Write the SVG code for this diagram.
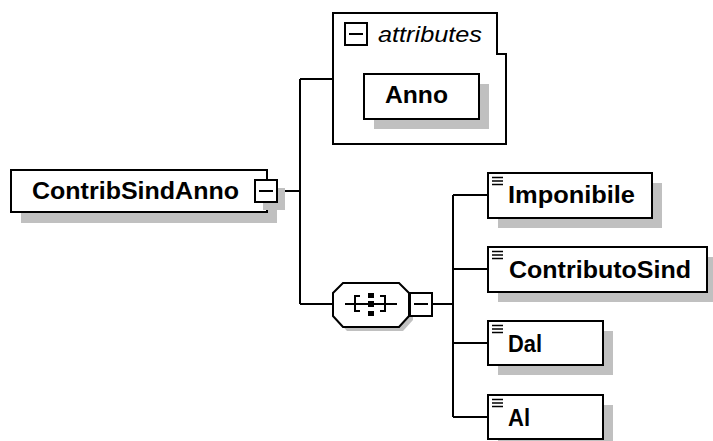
<svg xmlns="http://www.w3.org/2000/svg" width="713" height="441" viewBox="0 0 713 441">
<style>
.box{fill:#fff;stroke:#000;stroke-width:2}
.shadow{fill:#c0c0c0}
.line{fill:none;stroke:#000;stroke-width:2}
.thin{fill:none;stroke:#000;stroke-width:2}
.lbl{font-family:"Liberation Sans",Arial,sans-serif;font-weight:bold;font-size:24px;fill:#000}
.ital{font-family:"Liberation Sans",Arial,sans-serif;font-style:italic;font-size:22px;fill:#000}
</style>
<defs>
<g id="elicon"><path d="M4,4.5H15M4,8H15M4,11.5H15" stroke="#000" stroke-width="1.6" fill="none"/></g>
</defs>
<rect width="713" height="441" fill="#fff"/>
<g id="connectors">
<path class="line" d="M278,191H300M300,79V304M300,79H333M300,304H333"/>
<path class="line" d="M433,304H453M453,195V417M453,195H488M453,269H488M453,343H488M453,417H488"/>
</g>
<g id="ContribSindAnno">
<rect class="shadow" x="21" y="180" width="256" height="43"/>
<rect class="box" x="11" y="170" width="256" height="42"/>
<text class="lbl" x="32" y="199" textLength="207" lengthAdjust="spacingAndGlyphs">ContribSindAnno</text>
<rect class="shadow" x="263" y="188" width="22" height="22"/>
<rect class="box" x="255" y="180" width="22" height="22"/>
<path class="thin" d="M259,191H273"/>
</g>
<g id="attributes">
<path class="box" d="M333,13H497V54H506V144H333Z"/>
<rect class="box" x="345" y="23" width="22" height="22" stroke-width="1.6"/>
<path class="thin" d="M349,34H363"/>
<text class="ital" x="378" y="42" textLength="104" lengthAdjust="spacingAndGlyphs">attributes</text>
</g>
<g id="Anno">
<rect class="shadow" x="374" y="84" width="115" height="45"/>
<rect class="box" x="364" y="74" width="115" height="45"/>
<text class="lbl" x="385" y="103" textLength="63" lengthAdjust="spacingAndGlyphs">Anno</text>
</g>
<g id="sequence">
<path class="shadow" d="M347,287H403L413,297V320L403,331H347L337,320V297Z"/>
<path class="box" d="M343,283H399L409,293V316L399,327H343L333,316V293Z"/>
<path class="thin" stroke-width="1.6" d="M345,304H397M360,296H355V311H360M380,296H385V311H380"/>
<rect x="368" y="293" width="6" height="5" fill="#000"/>
<rect x="368" y="301" width="6" height="6" fill="#000"/>
<rect x="368" y="311" width="6" height="5" fill="#000"/>
<rect class="box" x="410" y="293" width="22" height="23"/>
<path class="thin" d="M414,304H428"/>
</g>
<g id="Imponibile">
<rect class="shadow" x="498" y="183" width="164" height="45"/>
<rect class="box" x="488" y="173" width="164" height="45"/>
<use href="#elicon" x="488" y="173"/>
<text class="lbl" x="508" y="203" textLength="127" lengthAdjust="spacingAndGlyphs">Imponibile</text>
</g>
<g id="ContributoSind">
<rect class="shadow" x="498" y="257" width="219" height="45"/>
<rect class="box" x="488" y="247" width="219" height="45"/>
<use href="#elicon" x="488" y="247"/>
<text class="lbl" x="509" y="278" textLength="182" lengthAdjust="spacingAndGlyphs">ContributoSind</text>
</g>
<g id="Dal">
<rect class="shadow" x="498" y="331" width="115" height="44"/>
<rect class="box" x="488" y="321" width="115" height="44"/>
<use href="#elicon" x="488" y="321"/>
<text class="lbl" x="508" y="352" textLength="34" lengthAdjust="spacingAndGlyphs">Dal</text>
</g>
<g id="Al">
<rect class="shadow" x="498" y="405" width="115" height="45"/>
<rect class="box" x="488" y="395" width="115" height="44"/>
<use href="#elicon" x="488" y="395"/>
<text class="lbl" x="508" y="426" textLength="22" lengthAdjust="spacingAndGlyphs">Al</text>
</g>
</svg>
